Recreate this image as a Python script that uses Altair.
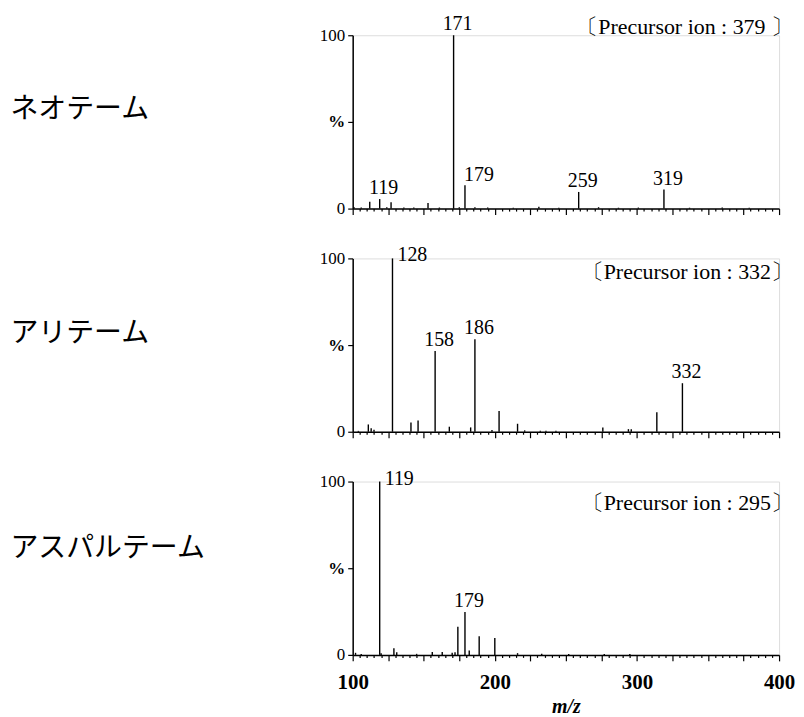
import altair as alt
import pandas as pd

# ---------------- data ----------------
names = ["ネオテーム", "アリテーム", "アスパルテーム"]
precursors = ["〔Precursor ion : 379 〕", "〔Precursor ion : 332〕", "〔Precursor ion : 295〕"]

neo_mz = [101, 106, 112, 119, 124, 127, 136, 143, 153, 161, 171, 175, 179, 186, 195,
          213, 231, 245, 259, 273, 287, 301, 319, 337, 360, 379]
neo_int = [0.8, 0.6, 4.0, 5.5, 0.8, 3.6, 0.6, 0.6, 3.2, 0.6, 100, 0.8, 13.5, 0.8, 0.6,
           0.5, 1.0, 0.5, 9.6, 0.8, 0.5, 0.6, 11.0, 0.5, 0.6, 0.5]
neo_labels = [171, 119, 179, 259, 319]

ali_mz = [104, 111, 113, 115, 128, 141, 146, 158, 168, 183, 186, 198, 203, 216, 221,
          232, 236, 243, 276, 294, 296, 314, 332]
ali_int = [0.5, 4.2, 2.0, 1.2, 100, 5.4, 6.5, 46.6, 2.9, 2.5, 53.4, 1.0, 11.9, 4.6, 0.8,
           0.6, 0.6, 0.6, 2.5, 1.5, 1.5, 11.3, 28.0]
ali_labels = [128, 158, 186, 332]

asp_mz = [102, 106, 119, 120, 129, 131, 145, 156, 163, 170, 172, 174, 179, 182, 189,
          200, 216, 233, 252, 277, 295]
asp_int = [1.2, 0.5, 100, 1.0, 3.8, 1.5, 0.6, 1.6, 1.6, 1.3, 1.5, 16.2, 24.7, 2.5, 10.8,
           9.8, 1.0, 0.6, 0.5, 0.5, 0.5]
asp_labels = [119, 179]

x_ticks = list(range(100, 401, 5))
y_ticks = [0, 50, 100]

# ---------------- styling / layout ----------------
SERIF = "Liberation Serif"
CJK = "Noto Sans CJK JP"
W, H = 428, 174

side_labels = {("アリテーム", 128), ("アスパルテーム", 119)}   # label beside the top of the peak
left_labels = {("ネオテーム", 179)}                            # label starting at the peak


def panel(name, mz, inten, labels, precursor, title_y, prec_y, bottom):
    df = pd.DataFrame({"mz": mz, "intensity": inten})
    lab = df[df["mz"].isin(labels)].copy()
    lab["kind"] = [
        "side" if (name, m) in side_labels else ("left" if (name, m) in left_labels else "top")
        for m in lab["mz"]
    ]

    xaxis = alt.Axis(
        values=x_ticks,
        grid=False,
        domainColor="black", domainWidth=1.5,
        tickColor="black", tickWidth=1.2,
        tickSize={"condition": {"test": "datum.value % 25 === 0", "value": 6}, "value": 2.5},
        labels=bottom,
        labelExpr="datum.value % 100 === 0 ? datum.label : ''",
        labelFont=SERIF, labelFontSize=21, labelFontWeight="bold", labelColor="black",
        labelPadding=11, labelFlush=False, labelOverlap=False,
        title="m/z" if bottom else "",
        titleFont=SERIF, titleFontSize=20, titleFontWeight="bold", titleFontStyle="italic",
        titleColor="black", titlePadding=4,
    )
    yaxis = alt.Axis(
        values=y_ticks,
        grid=False,
        domainColor="black", domainWidth=1.5,
        tickColor="black", tickWidth=1.2, tickSize=5,
        labelExpr="datum.value === 50 ? '%' : datum.label",
        labelFont=SERIF, labelFontSize=17, labelColor="black",
        labelFontWeight={"condition": {"test": "datum.value === 50", "value": "bold"}, "value": "normal"},
        labelPadding=3, labelFlush=False,
        title=name, titleAngle=0, titleX=-344, titleY=title_y,
        titleAlign="left", titleBaseline="middle",
        titleFont=CJK, titleFontSize=28, titleFontWeight="normal", titleColor="black",
    )
    xs = alt.Scale(domain=[100, 400], nice=False, zero=False)
    ys = alt.Scale(domain=[0, 100], nice=False)
    xe = alt.X("mz:Q", scale=xs, axis=xaxis)
    ye = alt.Y("intensity:Q", scale=ys, axis=yaxis)

    stems = alt.Chart(df).mark_rule(color="black", strokeWidth=1.4).encode(
        x=xe, y=ye, y2=alt.datum(0)
    )
    lab_base = alt.Chart(lab)
    top_txt = lab_base.transform_filter(alt.datum.kind == "top").mark_text(
        font=SERIF, fontSize=20, color="black", align="center", baseline="alphabetic", dx=4, dy=-5
    ).encode(x=xe, y=ye, text=alt.Text("mz:Q", format="d"))
    side_txt = lab_base.transform_filter(alt.datum.kind == "side").mark_text(
        font=SERIF, fontSize=20, color="black", align="left", baseline="middle", dx=5, dy=-3
    ).encode(x=xe, y=ye, text=alt.Text("mz:Q", format="d"))
    left_txt = lab_base.transform_filter(alt.datum.kind == "left").mark_text(
        font=SERIF, fontSize=20, color="black", align="left", baseline="alphabetic", dx=-1, dy=-4
    ).encode(x=xe, y=ye, text=alt.Text("mz:Q", format="d"))
    prec = alt.Chart(pd.DataFrame({"t": [precursor]})).mark_text(
        font=SERIF, fontSize=22, color="black", align="right", baseline="alphabetic"
    ).encode(text="t:N", x=alt.value(W + 14), y=alt.value(prec_y))

    return alt.layer(stems, top_txt, side_txt, left_txt, prec).properties(width=W, height=H)


p1 = panel(names[0], neo_mz, neo_int, neo_labels, precursors[0], 75, -1, False)
p2 = panel(names[1], ali_mz, ali_int, ali_labels, precursors[1], 75, 20.5, False)
p3 = panel(names[2], asp_mz, asp_int, asp_labels, precursors[2], 67, 28.5, True)

chart = alt.vconcat(p1, p2, p3, spacing=50, bounds="flush").properties(
    padding={"left": 1, "top": 4, "right": 0, "bottom": 0}
).configure_view(stroke=None).configure(background="white")

chart.save("out.html", embed_options={"renderer": "svg", "actions": False})
